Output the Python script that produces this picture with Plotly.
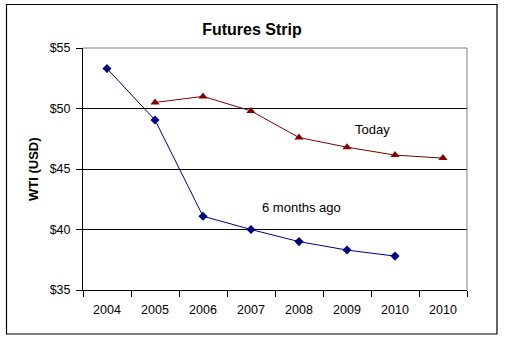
import plotly.graph_objects as go

categories = ["2004", "2005", "2006", "2007", "2008", "2009", "2010", "2010"]
six_months_ago = [53.3, 49.05, 41.1, 40.0, 39.0, 38.3, 37.8, None]
today = [None, 50.5, 51.0, 49.8, 47.6, 46.8, 46.15, 45.9]
yticks = [35, 40, 45, 50, 55]
ytick_text = ["$35", "$40", "$45", "$50", "$55"]

xpos = list(range(len(categories)))
FONT = "Liberation Sans, Arial, sans-serif"

fig = go.Figure()
fig.add_trace(go.Scatter(
    x=xpos, y=six_months_ago, mode="lines+markers", name="6 months ago",
    line=dict(color="#000080", width=1),
    marker=dict(symbol="diamond", size=7, color="#000080"),
    connectgaps=False, cliponaxis=False))
fig.add_trace(go.Scatter(
    x=xpos, y=today, mode="lines+markers", name="Today",
    line=dict(color="#800000", width=1),
    marker=dict(symbol="triangle-up", size=8, color="#800000"),
    connectgaps=False, cliponaxis=False))

fig.update_layout(
    width=505, height=340,
    margin=dict(l=83, r=38, t=48, b=50),
    paper_bgcolor="white", plot_bgcolor="white",
    showlegend=False,
    font=dict(family=FONT, size=12, color="black"),
    title=dict(text="<b>Futures Strip</b>", x=(252) / 505, xanchor="center",
               y=1 - 29 / 340, yanchor="middle",
               font=dict(family=FONT, size=16, color="black")),
    xaxis=dict(
        range=[-0.5, len(categories) - 0.5],
        tickvals=xpos, ticktext=categories, ticks="",
        showgrid=False, zeroline=False,
        showline=True, linecolor="black", linewidth=1, mirror=False,
        tickfont=dict(size=12.5), ticklabelstandoff=8,
        minor=dict(tickvals=[i - 0.5 for i in range(len(categories) + 1)],
                   ticks="outside", ticklen=6, tickcolor="black", tickwidth=1,
                   showgrid=False),
    ),
    yaxis=dict(
        range=[35, 55], tickvals=yticks, ticktext=ytick_text,
        ticks="outside", ticklen=6, tickcolor="black",
        showgrid=True, gridcolor="black", gridwidth=1, zeroline=False,
        showline=True, linecolor="black", linewidth=1,
        tickfont=dict(size=12.5), ticklabelstandoff=3,
    ),
)

# Plot area border (top/right grey)
fig.add_shape(type="line", xref="paper", yref="paper", x0=0, x1=1, y0=1, y1=1,
              line=dict(color="#808080", width=1))
fig.add_shape(type="line", xref="paper", yref="paper", x0=1, x1=1, y0=0, y1=1,
              line=dict(color="#808080", width=1))
# Outer chart frame
fig.add_shape(type="rect", xref="paper", yref="paper",
              x0=(6.5 - 83) / 384, x1=(497 - 83) / 384,
              y0=(290 - 334) / 242, y1=(290 - 4.5) / 242,
              line=dict(color="black", width=1.2), layer="above")

fig.add_annotation(text="<b>WTI (USD)</b>", xref="paper", yref="paper",
                   x=(33 - 83) / 384, y=0.5, textangle=-90, showarrow=False,
                   font=dict(size=13), xanchor="center", yanchor="middle")
fig.add_annotation(text="Today", x=5.54, y=48.3, showarrow=False,
                   font=dict(size=13))
fig.add_annotation(text="6 months ago", x=4.06, y=41.8, showarrow=False,
                   font=dict(size=13))

fig.write_html("out.html")
